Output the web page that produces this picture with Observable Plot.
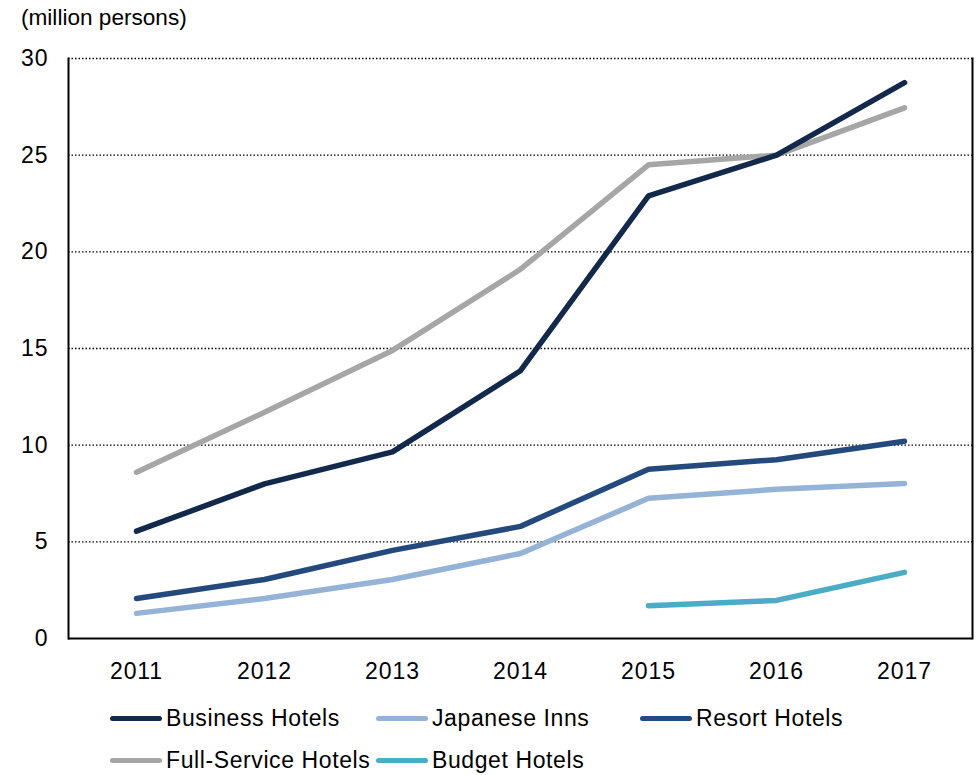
<!DOCTYPE html>
<html>
<head>
<meta charset="utf-8">
<script src="https://cdn.jsdelivr.net/npm/d3@7"></script>
<script src="https://cdn.jsdelivr.net/npm/@observablehq/plot@0.6"></script>
<style>
  html, body { margin: 0; padding: 0; background: #fff; }
  body { width: 977px; height: 775px; position: relative; overflow: hidden;
         font-family: "Liberation Sans", Arial, sans-serif; color: #000; }
  #title { position: absolute; left: 21px; top: 5px; font-size: 22.6px; }
  #chart { position: absolute; left: 0; top: 0; }
  #chart svg g[aria-label$="tick label"] text { letter-spacing: 0.9px; }
  .item { position: absolute; font-size: 23px; white-space: nowrap; height: 26px; line-height: 26px; letter-spacing: 0.6px; }
  .sw { display: inline-block; width: 52px; height: 5px; border-radius: 3px; vertical-align: middle; margin-right: 4px; position: relative; top: -1px; }
</style>
</head>
<body>
<div id="chart"></div>
<div id="title">(million persons)</div>
<div id="legend"></div>
<script>
const years = ["2011", "2012", "2013", "2014", "2015", "2016", "2017"];
const seriesNames = ["Business Hotels", "Japanese Inns", "Resort Hotels", "Full-Service Hotels", "Budget Hotels"];
const seriesColors = ["#13294b", "#95b3d7", "#23497d", "#a6a6a6", "#4bacc6"];
const businessHotels = [5.55, 8.0, 9.65, 13.85, 22.9, 25.0, 28.75];
const japaneseInns = [1.3, 2.07, 3.05, 4.4, 7.25, 7.72, 8.02];
const resortHotels = [2.07, 3.05, 4.56, 5.8, 8.76, 9.25, 10.2];
const fullServiceHotels = [8.6, 11.7, 14.9, 19.1, 24.5, 25.0, 27.45];
const budgetHotels = [null, null, null, null, 1.7, 1.97, 3.42];
const yTicks = [0, 5, 10, 15, 20, 25, 30];
const gridTicks = [5, 10, 15, 20, 25, 30];

const seriesValues = [businessHotels, japaneseInns, resortHotels, fullServiceHotels, budgetHotels];
const data = [];
seriesNames.forEach((name, i) => {
  seriesValues[i].forEach((v, j) => {
    if (v != null) data.push({series: name, year: years[j], value: v});
  });
});
const drawOrder = ["Full-Service Hotels", "Japanese Inns", "Budget Hotels", "Resort Hotels", "Business Hotels"];

const chart = Plot.plot({
  width: 977,
  height: 690,
  marginTop: 58,
  marginBottom: 52,
  marginLeft: 68,
  marginRight: 5,
  style: {fontFamily: "'Liberation Sans', Arial, sans-serif", fontSize: "23px", color: "#000", background: "transparent"},
  x: {type: "point", domain: years, padding: 0.53, label: null, tickSize: 0, tickPadding: 24},
  y: {domain: [0, 30], ticks: yTicks, label: null, tickSize: 0, tickPadding: 20},
  color: {domain: seriesNames, range: seriesColors},
  marks: [
    Plot.ruleY(gridTicks, {stroke: "#000", strokeWidth: 1.4, strokeDasharray: "1.5,2"}),
    Plot.ruleY([0], {stroke: "#000", strokeWidth: 2}),
    Plot.frame({anchor: "left", stroke: "#000", strokeWidth: 2}),
    Plot.frame({anchor: "right", stroke: "#000", strokeWidth: 2}),
    ...drawOrder.map(name => Plot.line(data.filter(d => d.series === name), {
      x: "year", y: "value", stroke: "series", strokeWidth: 5.5,
      strokeLinecap: "round", strokeLinejoin: "round"
    }))
  ]
});
document.getElementById("chart").appendChild(chart);

const legendPos = [[110, 705], [376, 705], [640, 705], [110, 747], [376, 747]];
const legend = document.getElementById("legend");
seriesNames.forEach((name, i) => {
  const it = document.createElement("div");
  it.className = "item";
  it.style.left = legendPos[i][0] + "px";
  it.style.top = legendPos[i][1] + "px";
  const sw = document.createElement("span");
  sw.className = "sw";
  sw.style.background = seriesColors[i];
  it.appendChild(sw);
  it.appendChild(document.createTextNode(name));
  legend.appendChild(it);
});
</script>
</body>
</html>
